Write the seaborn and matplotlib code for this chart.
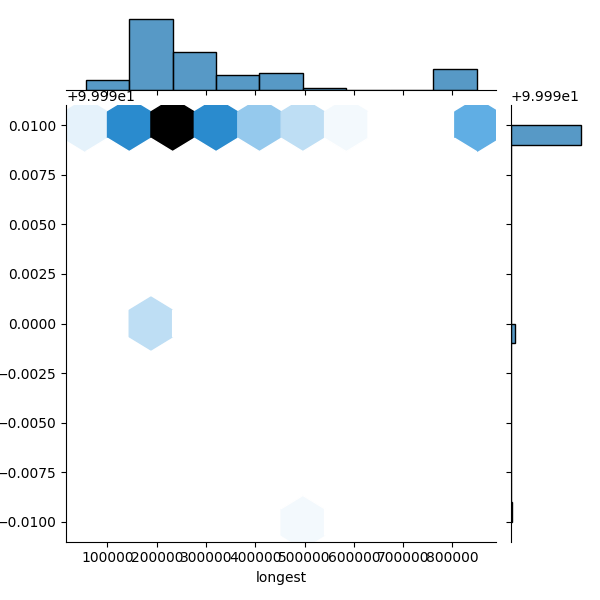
import numpy as np
import pandas as pd
import matplotlib
matplotlib.use('Agg')
import matplotlib.pyplot as plt
import seaborn as sns

# x values ("longest") grouped by their y value
longest_100 = [56000, 78000,
               105000, 118000, 127000, 138000,
               146000, 150000, 154000, 157000, 160000, 163000, 166000, 170000, 173000, 176000, 180000, 183000, 186000,
               189000, 191000, 193000, 195000, 197000, 199000, 201000, 203000, 205000, 207000, 209000, 211000,
               213000, 215000, 217000, 219000, 221000, 223000, 225000, 227000, 229000, 230000, 231000,
               234000, 238000, 243000, 247000, 251000, 255000, 259000, 264000, 269000, 274000,
               278000, 281000, 285000, 288000, 292000, 295000, 299000, 302000, 306000, 310000, 314000, 318000,
               325000, 334000, 342000, 351000, 360000,
               370000, 381000, 393000, 404000,
               415000, 426000, 437000, 447000,
               455000, 463000, 471000, 480000, 490000,
               560000,
               806000, 810000, 814000, 818000, 822000, 826000, 830000, 834000, 838000, 842000, 846000, 849000]
longest_9999 = [160000, 178000, 190000, 204000, 219000]
longest_9998 = [480000]

y_levels = [100.0, 99.99, 99.98]

xs = longest_100 + longest_9999 + longest_9998
ys = [y_levels[0]] * len(longest_100) + [y_levels[1]] * len(longest_9999) + [y_levels[2]] * len(longest_9998)
df = pd.DataFrame({'longest': xs, 'percent': ys})

color = sns.color_palette()[0]
colors = [sns.utils.set_hls_values(color, l=l) for l in np.linspace(1, 0, 12)]
cmap = sns.blend_palette(colors, as_cmap=True)

g = sns.JointGrid(data=df, x='longest', y='percent', height=6)
g.plot_joint(plt.hexbin, gridsize=9, cmap=cmap)
sns.histplot(x=df['longest'], ax=g.ax_marg_x, bins=9, color=color)
sns.histplot(y=df['percent'], ax=g.ax_marg_y, bins=20, color=color)
g.set_axis_labels('longest', '')

g.figure.set_size_inches(6, 6)
g.figure.savefig('out.png', dpi=100)
